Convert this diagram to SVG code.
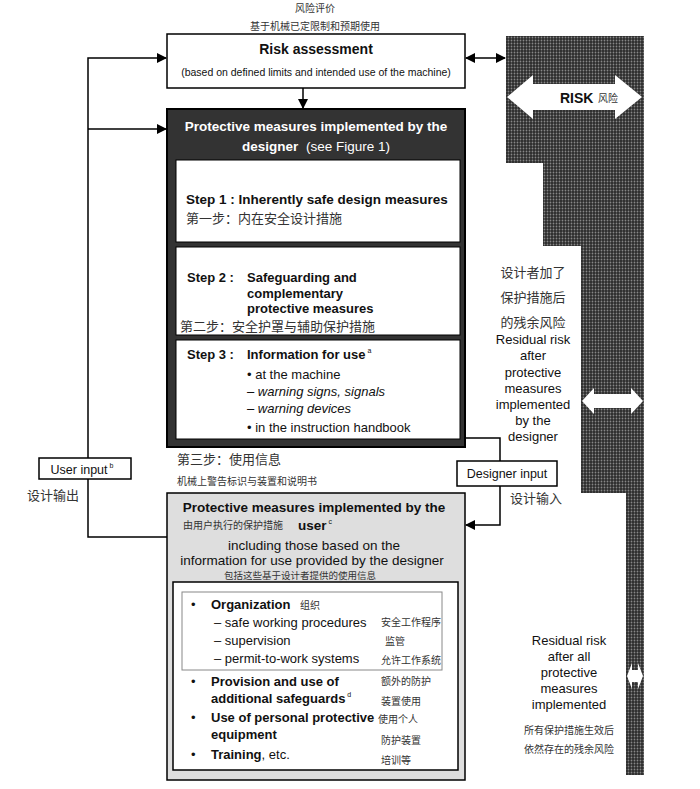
<svg xmlns="http://www.w3.org/2000/svg" width="700" height="789" viewBox="0 0 700 789">
<style>
.en{font-family:"Liberation Sans",Arial,sans-serif;fill:#111}
.b{font-weight:bold}
.zh{font-family:"Noto Sans CJK SC",sans-serif;fill:#333}
.w{fill:#fff}
.ln{stroke:#000;stroke-width:1.5;fill:none}
.box{fill:#fff;stroke:#000;stroke-width:1.5}
</style>
<defs>
<pattern id="hatch" x="0" y="0" width="3" height="3" patternUnits="userSpaceOnUse">
<rect width="3" height="3" fill="#222"/>
<circle cx="1.5" cy="1.5" r="0.9" fill="#bbb"/>
</pattern>
<marker id="ah" markerWidth="10" markerHeight="10" refX="9" refY="5" orient="auto-start-reverse" markerUnits="userSpaceOnUse">
<path d="M0,0 L10,5 L0,10 z" fill="#000"/>
</marker>
</defs>

<text class="zh" x="315" y="12" font-size="10" text-anchor="middle">风险评价</text>
<text class="zh" x="315" y="30" font-size="10" text-anchor="middle">基于机械已定限制和预期使用</text>

<g id="risk-bar">
<path d="M506,36 H644 V775 H626 V493 H581 V246 H543 V163 H506 Z" fill="#3a3a3a"/>
<path d="M506,36 H644 V775 H626 V493 H581 V246 H543 V163 H506 Z" fill="url(#hatch)" opacity="0.6"/>
<path d="M507,97 L533,75 V84 H615 V75 L642,97 L615,119 V110 H533 V119 Z" fill="#fff"/>
<text class="en b" x="560" y="103" font-size="14">RISK</text>
<text class="zh" x="598" y="102" font-size="10">风险</text>
<path d="M582,401 L594,388 V394 H631 V388 L643,401 L631,414 V408 H594 V414 Z" fill="#fff"/>
<path d="M627,676 L632,663 V670 H638 V663 L643,676 L638,689 V682 H632 V689 Z" fill="#fff"/>
</g>

<g id="risk-assessment">
<rect class="box" x="167" y="34" width="298" height="54"/>
<text class="en b" x="316" y="54" font-size="14" text-anchor="middle">Risk assessment</text>
<text class="en" x="316" y="76" font-size="10.5" text-anchor="middle">(based on defined limits and intended use of the machine)</text>
</g>

<g id="designer">
<rect x="167" y="109" width="298" height="338" fill="#333" stroke="#000" stroke-width="2"/>
<text class="en b w" x="316" y="131" font-size="13.5" text-anchor="middle">Protective measures implemented by the</text>
<text class="en w" x="316" y="151" font-size="13.5" text-anchor="middle"><tspan font-weight="bold">designer</tspan><tspan dx="4"> (see Figure 1)</tspan></text>
</g>

<g id="step1">
<rect x="176" y="160" width="284" height="82" fill="#fff" stroke="#000" stroke-width="1"/>
<text class="en b" x="186" y="204" font-size="13.5">Step 1 : Inherently safe design measures</text>
<text class="zh" x="186" y="223" font-size="13">第一步：内在安全设计措施</text>
</g>

<g id="step2">
<rect x="176" y="247" width="284" height="88" fill="#fff" stroke="#000" stroke-width="1"/>
<text class="en b" x="187" y="282" font-size="13">Step 2 :</text>
<text class="en b" x="247" y="282" font-size="13">Safeguarding and</text>
<text class="en b" x="247" y="298" font-size="13">complementary</text>
<text class="en b" x="247" y="313" font-size="13">protective measures</text>
<text class="zh" x="180" y="331" font-size="13">第二步：安全护罩与辅助保护措施</text>
</g>

<g id="step3">
<rect x="176" y="340" width="284" height="99" fill="#fff" stroke="#000" stroke-width="1"/>
<text class="en b" x="187" y="359" font-size="13">Step 3 :</text>
<text class="en b" x="247" y="359" font-size="13">Information for use<tspan font-size="7" font-weight="normal" dy="-6"> a</tspan></text>
<text class="en" x="247" y="379" font-size="13">• at the machine</text>
<text class="en" x="247" y="396" font-size="13" font-style="italic">– warning signs, signals</text>
<text class="en" x="247" y="413" font-size="13" font-style="italic">– warning devices</text>
<text class="en" x="247" y="432" font-size="13">• in the instruction handbook</text>
</g>

<text class="zh" x="177" y="464" font-size="13">第三步：使用信息</text>
<text class="zh" x="177" y="485" font-size="10">机械上警告标识与装置和说明书</text>

<g id="user-input">
<rect class="box" x="39" y="458" width="92" height="21"/>
<text class="en" x="82" y="474" font-size="12.5" text-anchor="middle">User input<tspan font-size="7" dy="-6"> b</tspan></text>
</g>
<text class="zh" x="27" y="500" font-size="13">设计输出</text>

<g id="designer-input">
<rect class="box" x="457" y="461" width="100" height="25"/>
<text class="en" x="507" y="478" font-size="12.5" text-anchor="middle">Designer input</text>
</g>
<text class="zh" x="510" y="503" font-size="13">设计输入</text>

<g id="user">
<rect x="167" y="493" width="298" height="287" fill="#dedede" stroke="#000" stroke-width="1.5"/>
<text class="en b" x="314" y="512" font-size="13.5" text-anchor="middle">Protective measures implemented by the</text>
<text class="zh" x="183" y="529" font-size="10">由用户执行的保护措施</text>
<text class="en b" x="298" y="530" font-size="13.5">user<tspan font-size="7" font-weight="normal" dy="-6"> c</tspan></text>
<text class="en" x="314" y="550" font-size="13.5" text-anchor="middle">including those based on the</text>
<text class="en" x="312" y="565" font-size="13.5" text-anchor="middle">information for use provided by the designer</text>
<text class="zh" x="300" y="579" font-size="9.5" text-anchor="middle">包括这些基于设计者提供的使用信息</text>
<rect x="173" y="582" width="285" height="188" fill="#fff" stroke="#000" stroke-width="1.5"/>
<rect x="182" y="592" width="260" height="78" fill="none" stroke="#888" stroke-width="1"/>
<text class="en" x="191" y="609" font-size="13">•</text>
<text class="en b" x="211" y="609" font-size="13">Organization</text>
<text class="zh" x="300" y="609" font-size="10">组织</text>
<text class="en" x="214" y="627" font-size="13">– safe working procedures</text>
<text class="zh" x="381" y="626" font-size="10">安全工作程序</text>
<text class="en" x="214" y="645" font-size="13">– supervision</text>
<text class="zh" x="385" y="645" font-size="10">监管</text>
<text class="en" x="214" y="663" font-size="13">– permit-to-work systems</text>
<text class="zh" x="381" y="664" font-size="10">允许工作系统</text>
<text class="en" x="191" y="686" font-size="13">•</text>
<text class="en b" x="211" y="686" font-size="13">Provision and use of</text>
<text class="zh" x="381" y="685" font-size="10">额外的防护</text>
<text class="en b" x="211" y="703" font-size="13">additional safeguards<tspan font-size="7" font-weight="normal" dy="-6"> d</tspan></text>
<text class="zh" x="381" y="705" font-size="10">装置使用</text>
<text class="en" x="191" y="722" font-size="13">•</text>
<text class="en b" x="211" y="722" font-size="13">Use of personal protective</text>
<text class="zh" x="378" y="723" font-size="10">使用个人</text>
<text class="en b" x="211" y="739" font-size="13">equipment</text>
<text class="zh" x="381" y="744" font-size="10">防护装置</text>
<text class="en" x="191" y="759" font-size="13">•</text>
<text class="en" x="211" y="759" font-size="13"><tspan font-weight="bold">Training</tspan>, etc.</text>
<text class="zh" x="381" y="764" font-size="10">培训等</text>
</g>

<g id="residual-texts">
<text class="zh" x="533" y="277" font-size="13" text-anchor="middle">设计者加了</text>
<text class="zh" x="533" y="302" font-size="13" text-anchor="middle">保护措施后</text>
<text class="zh" x="533" y="327" font-size="13" text-anchor="middle">的残余风险</text>
<text class="en" x="533" y="344" font-size="13" text-anchor="middle">Residual risk</text>
<text class="en" x="533" y="360" font-size="13" text-anchor="middle">after</text>
<text class="en" x="533" y="377" font-size="13" text-anchor="middle">protective</text>
<text class="en" x="533" y="393" font-size="13" text-anchor="middle">measures</text>
<text class="en" x="533" y="409" font-size="13" text-anchor="middle">implemented</text>
<text class="en" x="533" y="425" font-size="13" text-anchor="middle">by the</text>
<text class="en" x="533" y="441" font-size="13" text-anchor="middle">designer</text>
<text class="en" x="569" y="645" font-size="13" text-anchor="middle">Residual risk</text>
<text class="en" x="569" y="661" font-size="13" text-anchor="middle">after all</text>
<text class="en" x="569" y="677" font-size="13" text-anchor="middle">protective</text>
<text class="en" x="569" y="693" font-size="13" text-anchor="middle">measures</text>
<text class="en" x="569" y="709" font-size="13" text-anchor="middle">implemented</text>
<text class="zh" x="569" y="734" font-size="10" text-anchor="middle">所有保护措施生效后</text>
<text class="zh" x="569" y="753" font-size="10" text-anchor="middle">依然存在的残余风险</text>
</g>

<g id="connectors">
<line class="ln" x1="303" y1="88" x2="303" y2="108" marker-end="url(#ah)"/>
<line class="ln" x1="466" y1="58" x2="505" y2="58" marker-start="url(#ah)" marker-end="url(#ah)"/>
<path class="ln" d="M88,458 V58 H166" marker-end="url(#ah)"/>
<line class="ln" x1="88" y1="129" x2="166" y2="129" marker-end="url(#ah)"/>
<path class="ln" d="M88,479 V537 H167"/>
<path class="ln" d="M466,438 H500 V461"/>
<path class="ln" d="M500,486 V525 H466" marker-end="url(#ah)"/>
</g>
</svg>
